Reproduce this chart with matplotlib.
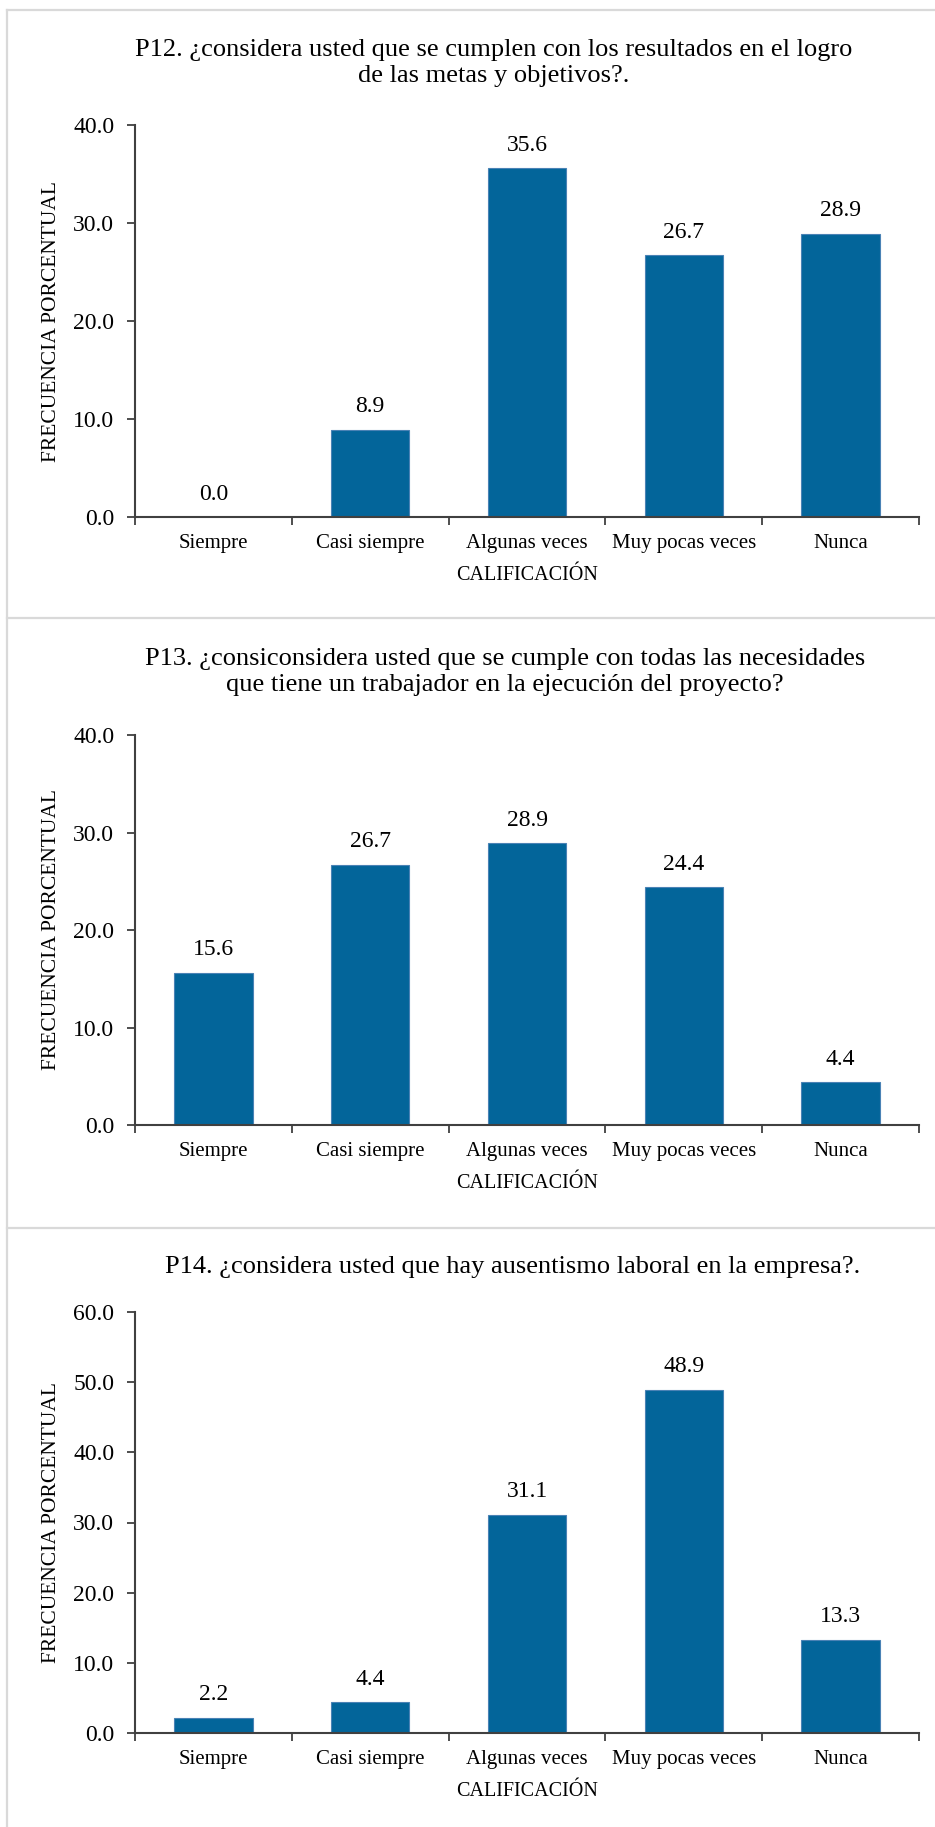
import matplotlib
matplotlib.use("Agg")
import matplotlib.pyplot as plt
from matplotlib.lines import Line2D
from matplotlib.transforms import offset_copy
from matplotlib.ticker import FormatStrFormatter, FixedLocator

plt.rcParams['font.family'] = ['Liberation Serif', 'DejaVu Serif']

categorias = ['Siempre', 'Casi siempre', 'Algunas veces', 'Muy pocas veces', 'Nunca']

p12 = [0.0, 8.9, 35.6, 26.7, 28.9]
p13 = [15.6, 26.7, 28.9, 24.4, 4.4]
p14 = [2.2, 4.4, 31.1, 48.9, 13.3]

titulo_p12 = 'P12. ¿considera usted que se cumplen con los resultados en el logro\nde las metas y objetivos?.'
titulo_p13 = 'P13. ¿consiconsidera usted que se cumple con todas las necesidades\nque tiene un trabajador en la ejecución del proyecto?'
titulo_p14 = 'P14. ¿considera usted que hay ausentismo laboral en la empresa?.'

BAR = '#03659a'
EDGE = '#4a82b5'
AXIS = '#404040'
BORDE = '#d9d9d9'

W, H = 935, 1827
fig = plt.figure(figsize=(W / 100, H / 100), dpi=100)


def px(x, y):
    return x / W, 1 - y / H


def grafico(valores, titulo, top, bottom, ymax, tcentro):
    left, right = 135, 919
    ax = fig.add_axes([left / W, 1 - bottom / H, (right - left) / W, (bottom - top) / H])
    pos = range(len(categorias))
    bars = ax.bar(pos, valores, width=0.5, color=BAR, edgecolor=EDGE, linewidth=0.8)
    for b, v in zip(bars, valores):
        ax.annotate(f'{v:.1f}', (b.get_x() + b.get_width() / 2, v),
                    xytext=(0, 16.5), textcoords='offset points',
                    ha='center', va='center', fontsize=17)

    ax.set_xlim(-0.5, len(categorias) - 0.5)
    ax.set_ylim(0, ymax)
    ax.set_yticks(range(0, ymax + 1, 10))
    ax.yaxis.set_major_formatter(FormatStrFormatter('%.1f'))

    # marcas en los limites de categoria, etiquetas en el centro
    ax.xaxis.set_major_locator(FixedLocator([i - 0.5 for i in range(len(categorias) + 1)]))
    ax.set_xticklabels([])
    ax.set_xticks(list(pos), minor=True)
    ax.set_xticklabels(categorias, minor=True, fontsize=15)
    ax.tick_params(axis='x', which='minor', length=0, pad=12)
    ax.tick_params(axis='x', which='major', length=6, width=1.3, color=AXIS, direction='out')
    ax.tick_params(axis='y', length=6, width=1.3, color=AXIS, labelsize=17, pad=9)

    for s in ('top', 'right'):
        ax.spines[s].set_visible(False)
    for s in ('left', 'bottom'):
        ax.spines[s].set_color(AXIS)
        ax.spines[s].set_linewidth(1.5)

    ax.text(0.5, 0, 'CALIFICACIÓN', fontsize=14.5, ha='center', va='center',
            transform=offset_copy(ax.transAxes, fig=fig, y=-58, units='dots'))
    ax.text(0, 0.5, 'FRECUENCIA PORCENTUAL', fontsize=15.5, ha='center', va='center',
            rotation=90, transform=offset_copy(ax.transAxes, fig=fig, x=-83, units='dots'))

    fig.text(*px(*tcentro), titulo, fontsize=19, ha='center', va='center',
             multialignment='center', linespacing=1.2)
    return ax


grafico(p12, titulo_p12, 125, 517, 40, (494, 63))
grafico(p13, titulo_p13, 735, 1125, 40, (505, 672))
grafico(p14, titulo_p14, 1312, 1733, 60, (513, 1267))

# marco de los paneles
lineas = [((7, 7), (10, H)), ((7, W), (10, 10)), ((7, W), (618, 618)), ((7, W), (1228, 1228))]
for xs, ys in lineas:
    fig.add_artist(Line2D([x / W for x in xs], [1 - y / H for y in ys],
                          transform=fig.transFigure, color=BORDE, linewidth=1.6))

fig.savefig('out.png', dpi=100)
